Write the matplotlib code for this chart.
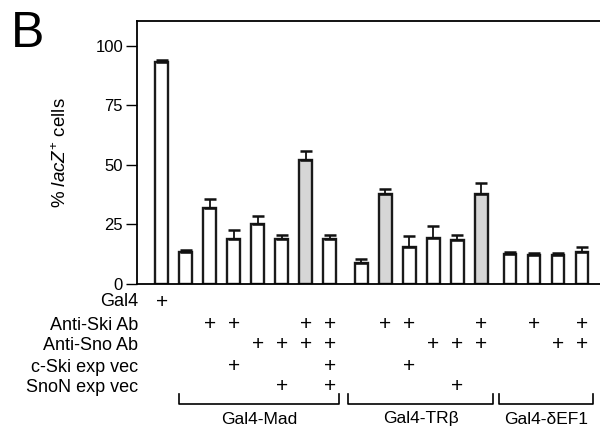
import matplotlib
matplotlib.use("Agg")
import matplotlib.pyplot as plt
import matplotlib.transforms as mtransforms
from matplotlib.lines import Line2D
import numpy as np

plt.rcParams['font.family'] = ['Liberation Sans', 'DejaVu Sans']
plt.rcParams['mathtext.fontset'] = 'custom'
plt.rcParams['mathtext.rm'] = 'Liberation Sans'
plt.rcParams['mathtext.it'] = 'Liberation Sans:italic'

# ---- data ----
groups = ["Gal4", "Gal4-Mad", "Gal4-TR\u03b2", "Gal4-\u03b4EF1"]
group_sizes = [1, 7, 6, 4]
values = [93, 13.4, 31.7, 19, 25.3, 18.8, 52.1, 18.9,
          8.7, 37.7, 15.7, 19.5, 18.4, 37.7,
          12.5, 12.0, 12.0, 13.6]
errors = [1.2, 0.8, 3.8, 3.6, 3.1, 1.8, 3.9, 1.7,
          1.8, 2.3, 4.6, 5.0, 2.3, 4.9,
          1.1, 1.2, 1.2, 1.9]
shaded = [False, False, False, False, False, False, True, False,
          False, True, False, False, False, True,
          False, False, False, False]
row_labels = ["Gal4", "Anti-Ski Ab", "Anti-Sno Ab", "c-Ski exp vec", "SnoN exp vec"]
treat = [
    [1, 0, 0, 0, 0, 0, 0, 0, 0, 0, 0, 0, 0, 0, 0, 0, 0, 0],
    [0, 0, 1, 1, 0, 0, 1, 1, 0, 1, 1, 0, 0, 1, 0, 1, 0, 1],
    [0, 0, 0, 0, 1, 1, 1, 1, 0, 0, 0, 1, 1, 1, 0, 0, 1, 1],
    [0, 0, 0, 1, 0, 0, 0, 1, 0, 0, 1, 0, 0, 0, 0, 0, 0, 0],
    [0, 0, 0, 0, 0, 1, 0, 1, 0, 0, 0, 0, 1, 0, 0, 0, 0, 0],
]
yticks = [0, 25, 50, 75, 100]

# ---- positions ----
gaps = [0.0, 0.0, 0.3, 0.2]
pos = []
x = 0.0
for gi, n in enumerate(group_sizes):
    x += gaps[gi]
    for k in range(n):
        pos.append(x)
        x += 1.0
pos = np.array(pos)

fig = plt.figure(figsize=(6, 4.29), dpi=100)
ax = fig.add_axes([137/600, 1-284/429, (600-137)/600, (284-21)/429])

colors = ['#d6d6d6' if s else 'white' for s in shaded]
ax.bar(pos, values, width=0.54, color=colors, edgecolor='#1a1a1a', linewidth=1.7, zorder=2)
ax.errorbar(pos, values, yerr=[np.zeros(len(errors)), errors], fmt='none',
            ecolor='#111111', elinewidth=1.3, capsize=4.3, capthick=1.8, zorder=3)

ax.set_xlim(-1.04, 18.25)
ax.set_ylim(0, 110.4)
ax.set_yticks(yticks)
ax.set_yticklabels([str(t) for t in yticks], fontsize=12)
ax.tick_params(axis='y', length=8, width=1.0, pad=2, direction='out')
ax.set_xticks([])
ax.spines['right'].set_visible(False)
for s in ['left', 'top', 'bottom']:
    ax.spines[s].set_linewidth(1.3)
ax.set_ylabel('% $\\mathit{lacZ}^{+}$ cells', fontsize=13.5)
ax.yaxis.set_label_coords(-0.145, 0.5)

# ---- treatment table ----
trans = mtransforms.blended_transform_factory(ax.transData, fig.transFigure)
row_y = [302, 325, 345, 367, 387]
for r, lab in enumerate(row_labels):
    yf = 1 - row_y[r]/429
    fig.text(138/600, yf, lab, ha='right', va='center', fontsize=13)
    for i, t in enumerate(treat[r]):
        if t:
            ax.text(pos[i], yf, '+', ha='center', va='center', fontsize=15,
                    transform=trans, clip_on=False)

# ---- group brackets ----
y_top = 1 - 394/429
y_bot = 1 - 404/429
starts = np.cumsum([0] + group_sizes[:-1])
pads = [(0.0, 0.0), (0.29, 0.37), (0.54, 0.5), (0.46, 0.46)]
for gi in range(1, len(groups)):
    i0 = starts[gi]
    i1 = i0 + group_sizes[gi] - 1
    xl = pos[i0] - pads[gi][0]
    xr = pos[i1] + pads[gi][1]
    ax.add_line(Line2D([xl, xl, xr, xr], [y_top, y_bot, y_bot, y_top],
                       transform=trans, color='black', linewidth=1.2, clip_on=False))
    ax.text((xl + xr)/2, 1 - 419/429, groups[gi], ha='center', va='center',
            fontsize=12.5, transform=trans, clip_on=False)

fig.text(11/600, 1 - 47/429, 'B', fontsize=36, ha='left', va='baseline')

fig.savefig('out.png', dpi=100)
